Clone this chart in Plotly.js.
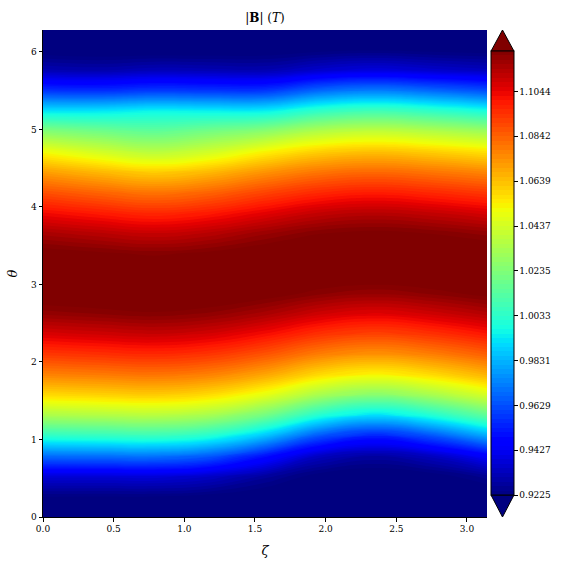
<!DOCTYPE html>
<html>
<head>
<meta charset="utf-8">
<script src="https://cdn.plot.ly/plotly-3.0.1.min.js"></script>
<style>html,body{margin:0;padding:0;background:#fff;}#chart{width:566px;height:566px;}</style>
</head>
<body>
<div id="chart"></div>
<script>
// toroidal angle zeta (x) and poloidal angle theta (y)
const zeta = [0, 0.3927, 0.7854, 1.1781, 1.5708, 1.9635, 2.3562, 2.7489, 3.1416];
const theta = [0, 0.2618, 0.5236, 0.7854, 1.0472, 1.3090, 1.5708, 1.8326, 2.0944, 2.3562,
  2.6180, 2.8798, 3.1416, 3.4034, 3.6652, 3.9270, 4.1888, 4.4506, 4.7124, 4.9742,
  5.2360, 5.4978, 5.7596, 6.0214, 6.2832];

// |B| (T) along theta, one array per zeta column
const bZeta0 = [0.9172,0.9225,0.9376,0.9689,1.0034,1.0338,1.0579,1.0768,1.0927,1.1068,1.1190,1.1271,1.1293,1.1251,1.1154,1.1025,1.0878,1.0712,1.0509,1.0248,0.9927,0.9577,0.9315,0.9198,0.9172];
const bZeta1 = [0.9175,0.9223,0.9375,0.9696,1.0047,1.0353,1.0596,1.0784,1.0944,1.1087,1.1205,1.1280,1.1290,1.1233,1.1126,1.0989,1.0834,1.0656,1.0433,1.0200,0.9930,0.9565,0.9305,0.9188,0.9175];
const bZeta2 = [0.9180,0.9223,0.9379,0.9705,1.0061,1.0368,1.0611,1.0799,1.0959,1.1102,1.1219,1.1285,1.1285,1.1218,1.1101,1.0959,1.0798,1.0610,1.0370,1.0160,0.9960,0.9590,0.9325,0.9190,0.9180];
const bZeta3 = [0.9176,0.9209,0.9347,0.9651,1.0009,1.0325,1.0575,1.0770,1.0933,1.1078,1.1200,1.1278,1.1291,1.1235,1.1128,1.0990,1.0834,1.0654,1.0427,1.0210,0.9950,0.9580,0.9318,0.9190,0.9176];
const bZeta4 = [0.9172,0.9181,0.9275,0.9501,0.9860,1.0200,1.0477,1.0694,1.0867,1.1019,1.1153,1.1252,1.1294,1.1266,1.1179,1.1049,1.0902,1.0734,1.0529,1.0266,0.9950,0.9580,0.9312,0.9194,0.9172];
const bZeta5 = [0.9175,0.9172,0.9202,0.9335,0.9635,1.0000,1.0324,1.0578,1.0775,1.0941,1.1088,1.1209,1.1282,1.1287,1.1223,1.1106,1.0961,1.0799,1.0608,1.0361,1.0047,0.9685,0.9360,0.9214,0.9175];
const bZeta6 = [0.9176,0.9177,0.9184,0.9284,0.9534,0.9905,1.0247,1.0523,1.0733,1.0905,1.1057,1.1188,1.1274,1.1292,1.1238,1.1128,1.0986,1.0824,1.0638,1.0397,1.0088,0.9726,0.9386,0.9224,0.9176];
const bZeta7 = [0.9175,0.9172,0.9202,0.9335,0.9635,1.0000,1.0324,1.0578,1.0775,1.0941,1.1088,1.1209,1.1282,1.1287,1.1223,1.1106,1.0961,1.0799,1.0608,1.0361,1.0047,0.9685,0.9360,0.9214,0.9175];
const bZeta8 = [0.9174,0.9177,0.9255,0.9448,0.9805,1.0151,1.0440,1.0664,1.0842,1.0997,1.1134,1.1240,1.1292,1.1276,1.1195,1.1071,1.0925,1.0761,1.0564,1.0310,0.9991,0.9632,0.9337,0.9205,0.9174];

// colour levels and colorbar ticks
const levelMin = 0.9225;
const levelMax = 1.1226;
const levelCount = 100;
const cbTickVals = [0.9225, 0.9427, 0.9629, 0.9831, 1.0033, 1.0235, 1.0437, 1.0639, 1.0842, 1.1044];
const cbTickText = ['0.9225','0.9427','0.9629','0.9831','1.0033','1.0235','1.0437','1.0639','1.0842','1.1044'];
const xTickVals = [0, 0.5, 1.0, 1.5, 2.0, 2.5, 3.0];
const yTickVals = [0, 1, 2, 3, 4, 5, 6];

const columns = [bZeta0, bZeta1, bZeta2, bZeta3, bZeta4, bZeta5, bZeta6, bZeta7, bZeta8];
const z = theta.map((t, i) => columns.map(col => col[i]));

// matplotlib "jet"
const jet = [
  [0.000, 'rgb(0,0,128)'],
  [0.110, 'rgb(0,0,255)'],
  [0.125, 'rgb(0,0,255)'],
  [0.340, 'rgb(0,219,255)'],
  [0.350, 'rgb(0,230,247)'],
  [0.375, 'rgb(21,255,226)'],
  [0.640, 'rgb(239,255,8)'],
  [0.650, 'rgb(247,245,0)'],
  [0.660, 'rgb(255,236,0)'],
  [0.890, 'rgb(255,19,0)'],
  [0.910, 'rgb(232,0,0)'],
  [1.000, 'rgb(128,0,0)']
];

const font = 'DejaVu Serif, Liberation Serif, serif';
const cbX0 = 1.009, cbX1 = 1.0608, cbXm = (cbX0 + cbX1) / 2;
const cbTop = 0.9565, cbBot = 0.0452;

const trace = {
  type: 'contour',
  x: zeta,
  y: theta,
  z: z,
  colorscale: jet,
  zauto: false,
  zmin: levelMin,
  zmax: levelMax,
  autocontour: false,
  contours: {
    start: levelMin,
    end: levelMax,
    size: (levelMax - levelMin) / (levelCount - 1),
    coloring: 'fill',
    showlines: false
  },
  line: {width: 0, smoothing: 1.3},
  colorbar: {
    x: cbX0, xanchor: 'left',
    y: (cbTop + cbBot) / 2, yanchor: 'middle',
    len: cbTop - cbBot, lenmode: 'fraction',
    thickness: 23, thicknessmode: 'pixels',
    xpad: 0, ypad: 0,
    outlinewidth: 1, outlinecolor: '#000',
    tickmode: 'array', tickvals: cbTickVals, ticktext: cbTickText,
    ticks: 'outside', ticklen: 3.5, tickcolor: '#000', tickwidth: 1,
    tickfont: {family: font, size: 9, color: '#000'}
  },
  hoverinfo: 'skip'
};

const layout = {
  width: 566, height: 566,
  margin: {l: 43, r: 79, t: 30, b: 49, pad: 0},
  paper_bgcolor: '#fff', plot_bgcolor: '#fff',
  font: {family: font, size: 9, color: '#000'},
  title: {
    text: '|<b>B</b>| (<i>T</i>)',
    x: 0.5, xref: 'paper', xanchor: 'center',
    y: 1 - 18 / 566, yref: 'container', yanchor: 'middle',
    font: {family: font, size: 12, color: '#000'}
  },
  xaxis: {
    range: [0, Math.PI], tickmode: 'array', tickvals: xTickVals,
    tickformat: '.1f',
    ticks: 'outside', ticklen: 3.5, tickcolor: '#000',
    showline: true, linecolor: '#000', linewidth: 1, mirror: false,
    showgrid: false, zeroline: false,
    tickfont: {family: font, size: 9},
    title: {text: '<i>ζ</i>', font: {family: font, size: 13}, standoff: 12}
  },
  yaxis: {
    range: [0, 2 * Math.PI], tickmode: 'array', tickvals: yTickVals,
    ticks: 'outside', ticklen: 3.5, tickcolor: '#000',
    showline: true, linecolor: '#000', linewidth: 1, mirror: false,
    showgrid: false, zeroline: false,
    tickfont: {family: font, size: 9},
    title: {text: '<i>θ</i>', font: {family: font, size: 13}, standoff: 10}
  },
  shapes: [
    {type: 'path', xref: 'paper', yref: 'paper',
     path: `M ${cbX0},${cbTop} L ${cbXm},1 L ${cbX1},${cbTop} Z`,
     fillcolor: 'rgb(128,0,0)', line: {color: '#000', width: 1}},
    {type: 'path', xref: 'paper', yref: 'paper',
     path: `M ${cbX0},${cbBot} L ${cbXm},0 L ${cbX1},${cbBot} Z`,
     fillcolor: 'rgb(0,0,128)', line: {color: '#000', width: 1}}
  ],
  showlegend: false
};

Plotly.newPlot('chart', [trace], layout, {displayModeBar: false, staticPlot: true});
</script>
</body>
</html>
